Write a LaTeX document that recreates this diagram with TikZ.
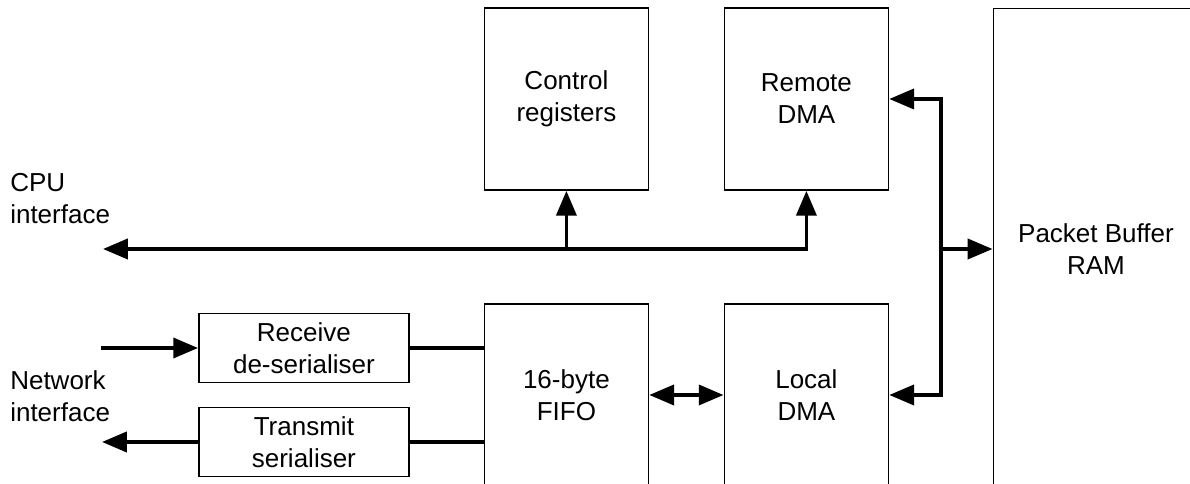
\documentclass[tikz,border=0pt]{standalone}
\usepackage{fontspec}
\setmainfont{Liberation Sans}
\usetikzlibrary{arrows.meta}

\begin{document}
\begin{tikzpicture}[node distance=6cm,
    font=\fontsize{18.5}{22.7}\selectfont,
    block/.style={rectangle, draw, line width=1.2pt, minimum width=4.1cm, minimum height=4.55cm, align=center},
    serdes/.style={rectangle, draw, line width=1.2pt, minimum width=5.25cm, minimum height=1.72cm, align=center},
    wire/.style={line width=2.6pt},
    arr/.style={wire, -{Triangle[length=0.62cm, width=0.5cm]}},
    arrs/.style={wire, {Triangle[length=0.62cm, width=0.5cm]}-{Triangle[length=0.62cm, width=0.5cm]}},
    lbl/.style={align=left, inner sep=0pt, anchor=west}]
    \clip (0,0) rectangle (29.75,12.1);

    \node (ctrl) [block] at (14.16,9.625) {Control\\registers};
    \node (rdma) [block, right of=ctrl] {Remote\\DMA};
    \node (fifo) [block, below of=ctrl, node distance=7.4cm] {16-byte\\FIFO};
    \node (ldma) [block, right of=fifo] {Local\\DMA};
    \node (ram) [rectangle, draw, line width=0.7pt, minimum width=5.15cm, minimum height=12cm, align=center] at (27.4,5.875) {Packet Buffer\\RAM};
    \node (rx) [serdes, left of=fifo, node distance=6.5625cm, yshift=1.175cm] {Receive\\de-serialiser};
    \node (tx) [serdes, below of=rx, node distance=2.35cm] {Transmit\\serialiser};

    \node (cpu) [lbl] at (0.25,7.125) {CPU\\interface};
    \node (net) [lbl] at (0.25,2.2) {Network\\interface};

    \coordinate (cpuend) at (2.575,5.875);
    \coordinate (tap) at (23.525,5.875);
    \coordinate (netin) at (2.525,3.4);
    \coordinate (netout) at (2.55,1.05);

    % CPU bus
    \draw[arrs] (cpuend) -- (rdma.south |- cpuend) -- (rdma.south);
    \draw[arr] (ctrl.south |- cpuend) -- (ctrl.south);

    % buffer RAM side
    \draw[arrs] (rdma.east) -- (tap |- rdma.east) -- (tap |- ldma.east) -- (ldma.east);
    \draw[arr] (tap) -- (ram.west);
    \draw[arrs] (fifo.east) -- (ldma.west);

    % network side
    \draw[arr] (netin) -- (rx.west);
    \draw[arr] (tx.west) -- (netout);
    \draw[wire] (rx.east) -- (rx.east -| fifo.west);
    \draw[wire] (tx.east) -- (tx.east -| fifo.west);
\end{tikzpicture}
\end{document}
